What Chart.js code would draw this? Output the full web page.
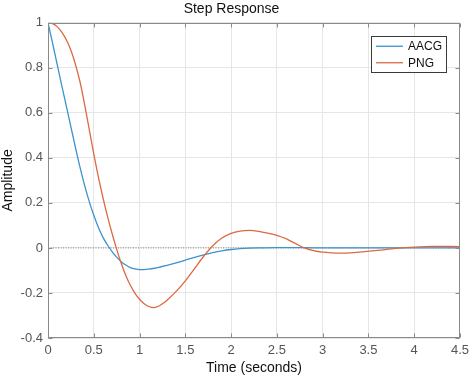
<!DOCTYPE html>
<html><head><meta charset="utf-8">
<script src="https://cdn.jsdelivr.net/npm/chart.js@4/dist/chart.umd.min.js"></script>
<style>html,body{margin:0;padding:0;background:#fff}#wrap{width:474px;height:380px}</style>
</head><body><div id="wrap"><canvas id="c" width="474" height="380"></canvas></div>
<script>
// ---- data ----
const chartTitle = 'Step Response';
const xTitle = 'Time (seconds)';
const yTitle = 'Amplitude';
const seriesNames = ['AACG', 'PNG'];

const tAACG = [0, 0.05, 0.1, 0.15, 0.2, 0.25, 0.3, 0.35, 0.4, 0.45, 0.5, 0.55, 0.6, 0.65, 0.7, 0.75, 0.8, 0.85, 0.9, 0.95, 1.0, 1.05, 1.1, 1.2, 1.3, 1.4, 1.5, 1.6, 1.7, 1.8, 1.9, 2.0, 2.1, 2.2, 2.3, 2.5, 2.8, 3.0, 3.5, 4.0, 4.5];
const aacg  = [1, 0.91, 0.815, 0.722, 0.63, 0.538, 0.446, 0.358, 0.278, 0.207, 0.145, 0.092, 0.047, 0.013, -0.016, -0.041, -0.061, -0.076, -0.087, -0.093, -0.096, -0.096, -0.094, -0.087, -0.077, -0.066, -0.054, -0.042, -0.031, -0.021, -0.013, -0.007, -0.003, -0.001, 0, 0.001, 0.001, 0, 0, 0, 0];

const tPNG = [0, 0.05, 0.1, 0.15, 0.2, 0.25, 0.3, 0.35, 0.4, 0.45, 0.5, 0.55, 0.6, 0.65, 0.7, 0.75, 0.8, 0.85, 0.9, 0.95, 1.0, 1.05, 1.1, 1.15, 1.2, 1.25, 1.3, 1.4, 1.5, 1.6, 1.7, 1.8, 1.9, 2.0, 2.1, 2.2, 2.3, 2.4, 2.5, 2.6, 2.7, 2.8, 2.9, 3.0, 3.1, 3.2, 3.3, 3.4, 3.6, 3.8, 4.0, 4.2, 4.5];
const png  = [1, 0.996, 0.983, 0.959, 0.925, 0.878, 0.815, 0.737, 0.637, 0.528, 0.418, 0.316, 0.224, 0.14, 0.064, -0.005, -0.068, -0.122, -0.166, -0.202, -0.228, -0.248, -0.26, -0.265, -0.26, -0.248, -0.232, -0.193, -0.146, -0.092, -0.037, 0.01, 0.044, 0.065, 0.075, 0.078, 0.074, 0.066, 0.056, 0.041, 0.02, 0, -0.012, -0.019, -0.022, -0.023, -0.022, -0.019, -0.011, -0.002, 0.004, 0.007, 0.006];

const refLevel = [0, 0];          // dotted steady-state reference line
const refTime  = [0, 4.5];

const xTicks = [0, 0.5, 1, 1.5, 2, 2.5, 3, 3.5, 4, 4.5];
const xTickLabels = ['0', '0.5', '1', '1.5', '2', '2.5', '3', '3.5', '4', '4.5'];
const yTicks = [-0.4, -0.2, 0, 0.2, 0.4, 0.6, 0.8, 1];
const yTickLabels = ['-0.4', '-0.2', '0', '0.2', '0.4', '0.6', '0.8', '1'];

// ---- styles ----
const FONT = '"Liberation Sans", Arial, Helvetica, sans-serif';
const colors = ['#3d93cc', '#dc6944'];
const axisColor = '#8a8a8a';

const toXY = (xs, ys) => xs.map((x, i) => ({x: x, y: ys[i]}));

const boxPlugin = {
  id: 'matlabBox',
  afterDatasetsDraw(chart) {
    const {ctx, chartArea: a, scales: {x, y}} = chart;
    ctx.save();
    ctx.strokeStyle = axisColor;
    ctx.lineWidth = 1;
    const L = Math.round(a.left) + 0.5, R = Math.round(a.right) - 0.5;
    const T = Math.round(a.top) + 0.5, B = Math.round(a.bottom) - 0.5;
    ctx.strokeRect(L, T, R - L, B - T);
    const tl = 4;
    ctx.beginPath();
    xTicks.forEach(v => {
      const px = Math.round(x.getPixelForValue(v)) + 0.5;
      ctx.moveTo(px, B); ctx.lineTo(px, B - tl);
      ctx.moveTo(px, T); ctx.lineTo(px, T + tl);
    });
    yTicks.forEach(v => {
      const py = Math.round(y.getPixelForValue(v)) + 0.5;
      ctx.moveTo(L, py); ctx.lineTo(L + tl, py);
      ctx.moveTo(R, py); ctx.lineTo(R - tl, py);
    });
    ctx.stroke();
    ctx.restore();
  }
};

const legendPlugin = {
  id: 'insideLegend',
  afterDraw(chart) {
    const {ctx, chartArea: a} = chart;
    const ds = chart.data.datasets.filter(d => d.showInLegend);
    ctx.save();
    ctx.font = '12px ' + FONT;
    const tw = Math.max(...ds.map(d => ctx.measureText(d.label).width));
    const lineLen = 27, padL = 5, gap = 5, padR = 5, rowH = 16.5, padV = 2;
    const w = padL + lineLen + gap + tw + padR;
    const h = padV * 2 + rowH * ds.length;
    const right = Math.round(a.right) - 13, top = Math.round(a.top) + 13;
    const left = Math.round(right - w);
    ctx.fillStyle = '#fff';
    ctx.fillRect(left, top, right - left, h);
    ctx.strokeStyle = '#3a3a3a';
    ctx.lineWidth = 1;
    ctx.strokeRect(left + 0.5, top + 0.5, right - left - 1, h - 1);
    ds.forEach((d, i) => {
      const cy = top + padV + rowH * i + rowH / 2;
      ctx.strokeStyle = d.borderColor;
      ctx.lineWidth = d.borderWidth;
      ctx.beginPath();
      ctx.moveTo(left + padL, cy); ctx.lineTo(left + padL + lineLen, cy);
      ctx.stroke();
      ctx.fillStyle = '#111';
      ctx.textBaseline = 'middle';
      ctx.textAlign = 'left';
      ctx.fillText(d.label, left + padL + lineLen + gap, cy + 0.5);
    });
    ctx.restore();
  }
};

new Chart(document.getElementById('c'), {
  type: 'line',
  data: {
    datasets: [
      {label: 'ref', data: toXY(refTime, refLevel), borderColor: '#6a6a6a', borderWidth: 0.8,
       borderDash: [1, 1.5], pointRadius: 0, fill: false, order: 3, showInLegend: false},
      {label: seriesNames[0], data: toXY(tAACG, aacg), borderColor: colors[0], borderWidth: 1.3,
       pointRadius: 0, fill: false, cubicInterpolationMode: 'monotone', order: 2, showInLegend: true},
      {label: seriesNames[1], data: toXY(tPNG, png), borderColor: colors[1], borderWidth: 1.3,
       pointRadius: 0, fill: false, cubicInterpolationMode: 'monotone', order: 1, showInLegend: true}
    ]
  },
  options: {
    responsive: false,
    devicePixelRatio: 1,
    animation: false,
    layout: {padding: {left: 0, right: 11, top: 0, bottom: 0}},
    plugins: {
      legend: {display: false},
      tooltip: {enabled: false},
      title: {display: true, text: chartTitle, color: '#111',
              font: {family: FONT, size: 14, weight: 'normal'}, padding: {top: 1, bottom: 5}}
    },
    scales: {
      x: {
        type: 'linear', min: 0, max: 4.5,
        afterBuildTicks: s => { s.ticks = xTicks.map(v => ({value: v})); },
        afterFit: s => { s.height = 42; },
        ticks: {color: '#555', font: {family: FONT, size: 13}, padding: 5,
                callback: (v) => xTickLabels[xTicks.indexOf(v)] ?? String(v), maxRotation: 0},
        grid: {color: '#e6e6e6', drawTicks: false},
        border: {display: false},
        title: {display: true, text: xTitle, color: '#111',
                font: {family: FONT, size: 14}, padding: {top: 0, bottom: 3}}
      },
      y: {
        type: 'linear', min: -0.4, max: 1,
        afterBuildTicks: s => { s.ticks = yTicks.map(v => ({value: v})); },
        afterFit: s => { s.width = 48; },
        ticks: {color: '#555', font: {family: FONT, size: 13}, padding: 5,
                callback: (v) => yTickLabels[yTicks.indexOf(v)] ?? String(v)},
        grid: {color: '#e6e6e6', drawTicks: false},
        border: {display: false},
        title: {display: true, text: yTitle, color: '#111',
                font: {family: FONT, size: 14}, padding: {top: 0, bottom: 0}}
      }
    }
  },
  plugins: [boxPlugin, legendPlugin]
});
</script>
</body></html>
